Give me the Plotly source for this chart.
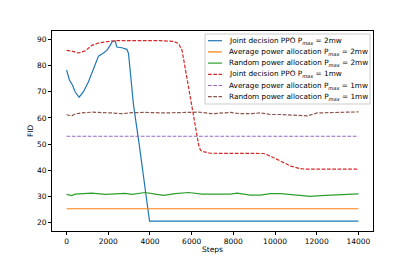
import plotly.graph_objects as go

# ---- data ----
ppo2_x = [0, 135, 280, 410, 600, 810, 1050, 1290, 1530, 1770, 1930, 2090, 2200, 2330, 2410, 2650, 2890, 2970, 3100, 3210, 3485, 3690, 3900, 3980, 14000]
ppo2_y = [78.3, 74.5, 72.6, 70.0, 67.9, 70.0, 73.8, 78.9, 83.6, 84.8, 85.8, 87.7, 89.2, 89.4, 87.1, 86.8, 86.2, 84.6, 74.0, 65.0, 49.8, 36.6, 25.2, 20.6, 20.6]

avg2_x = [0, 14000]
avg2_y = [25.3, 25.3]

rnd2_x = [0, 250, 410, 1210, 1850, 2810, 3130, 3770, 4250, 4650, 5220, 5860, 6500, 7140, 7860, 8180, 8820, 9300, 9780, 10260, 10750, 11220, 11700, 12190, 12670, 13150, 13630, 14000]
rnd2_y = [30.8, 30.3, 30.9, 31.3, 30.8, 31.2, 30.8, 31.5, 30.9, 30.4, 31.1, 31.5, 30.9, 30.8, 30.9, 31.3, 30.5, 30.5, 31.1, 31.1, 30.8, 30.5, 30.0, 30.3, 30.5, 30.7, 30.7, 31.0]

ppo1_x = [0, 250, 570, 890, 1210, 1530, 2010, 2330, 3500, 4500, 5135, 5375, 5540, 5780, 6020, 6180, 6340, 6420, 6500, 6900, 8000, 9460, 9780, 10260, 10750, 11220, 11550, 14000]
ppo1_y = [85.8, 85.5, 84.8, 85.6, 87.7, 88.6, 89.2, 89.5, 89.5, 89.5, 89.2, 88.4, 85.8, 74.6, 64.0, 57.5, 49.5, 47.8, 47.2, 46.5, 46.4, 46.4, 45.4, 43.5, 41.6, 40.6, 40.4, 40.4]

avg1_x = [0, 14000]
avg1_y = [53.0, 53.0]

rnd1_x = [0, 250, 410, 730, 1210, 1690, 2170, 2650, 3130, 3770, 4250, 4740, 5220, 5860, 6340, 6980, 7860, 8340, 8820, 9300, 9780, 10260, 10750, 11220, 11550, 12030, 12670, 13150, 13630, 14000]
rnd1_y = [61.2, 60.8, 61.5, 61.9, 62.2, 62.1, 61.9, 61.6, 62.0, 62.1, 61.9, 61.9, 62.0, 62.0, 62.2, 61.6, 62.1, 61.6, 61.6, 61.9, 61.3, 61.3, 61.2, 61.1, 60.8, 61.9, 62.1, 62.1, 62.3, 62.3]

x_ticks = [0, 2000, 4000, 6000, 8000, 10000, 12000, 14000]
y_ticks = [20, 30, 40, 50, 60, 70, 80, 90]

PM = "P<sub><i>max</i></sub>"
names = [
    f"Joint decision PPO {PM} = 2mw",
    f"Average power allocation {PM} = 2mw",
    f"Random power allocation {PM} = 2mw",
    f"Joint decision PPO {PM} = 1mw",
    f"Average power allocation {PM} = 1mw",
    f"Random power allocation {PM} = 1mw",
]
series = [(ppo2_x, ppo2_y), (avg2_x, avg2_y), (rnd2_x, rnd2_y),
          (ppo1_x, ppo1_y), (avg1_x, avg1_y), (rnd1_x, rnd1_y)]
colors = ["#1f77b4", "#ff7f0e", "#2ca02c", "#d62728", "#9467bd", "#8c564b"]
DASH = "3.7px,1.6px"
dashes = ["solid", "solid", "solid", DASH, DASH, DASH]

fig = go.Figure()
for (xs, ys), n, c, d in zip(series, names, colors, dashes):
    fig.add_trace(go.Scatter(x=xs, y=ys, mode="lines", name=n, showlegend=False,
                             line=dict(color=c, width=1.2, dash=d)))

# The page body has an 8px default margin, so the figure is drawn 8px smaller
# and offset; the plot area still lands at x 52..373, y 31..231 of the window.
OFF = 8
W, H = 415 - OFF, 260 - OFF
L, T = 52 - OFF, 31 - OFF
R, B = W - (373 - OFF), H - (231 - OFF)

def px(xp):
    return (xp - 52) / 321

def py(yp):
    return (231 - yp) / 200

# custom legend (compact, like matplotlib)
shapes = [dict(type="rect", xref="paper", yref="paper",
               x0=px(205), x1=px(370), y0=py(104), y1=py(34),
               line=dict(color="#cccccc", width=1), fillcolor="rgba(255,255,255,0.8)", layer="above")]
annotations = []
rows = [40.7, 51.9, 63.1, 74.3, 85.5, 96.7]
for yr, n, c, d in zip(rows, names, colors, dashes):
    shapes.append(dict(type="line", xref="paper", yref="paper",
                       x0=px(208), x1=px(222), y0=py(yr), y1=py(yr),
                       line=dict(color=c, width=1.2, dash=d), layer="above"))
    annotations.append(dict(xref="paper", yref="paper", x=px(227), y=py(yr),
                            xanchor="left", yanchor="middle", showarrow=False,
                            text=n, font=dict(size=7.3, color="black")))

# axis titles
annotations.append(dict(xref="paper", yref="paper", x=0.5, y=py(249),
                        xanchor="center", yanchor="middle", showarrow=False,
                        text="Steps", font=dict(size=7.5, color="black")))
annotations.append(dict(xref="paper", yref="paper", x=px(30), y=0.5,
                        xanchor="center", yanchor="middle", showarrow=False, textangle=-90,
                        text="FID", font=dict(size=7.5, color="black")))

font = "DejaVu Sans, sans-serif"
fig.update_layout(
    width=W, height=H,
    margin=dict(l=L, r=R, t=T, b=B, autoexpand=False),
    paper_bgcolor="white", plot_bgcolor="white",
    font=dict(family=font, size=7, color="black"),
    showlegend=False,
    shapes=shapes, annotations=annotations,
)
fig.update_xaxes(range=[-700, 14700], tickvals=x_ticks, ticktext=[str(v) for v in x_ticks],
                 showgrid=False, zeroline=False, showline=True, linecolor="black", linewidth=0.8,
                 mirror=True, ticks="outside", ticklen=3, tickwidth=0.8, tickcolor="black",
                 tickfont=dict(size=7.5))
fig.update_yaxes(range=[16.8, 93.2], tickvals=y_ticks, ticktext=[str(v) for v in y_ticks],
                 showgrid=False, zeroline=False, showline=True, linecolor="black", linewidth=0.8,
                 mirror=True, ticks="outside", ticklen=3, tickwidth=0.8, tickcolor="black",
                 tickfont=dict(size=7.5))

fig.write_html("out.html")
